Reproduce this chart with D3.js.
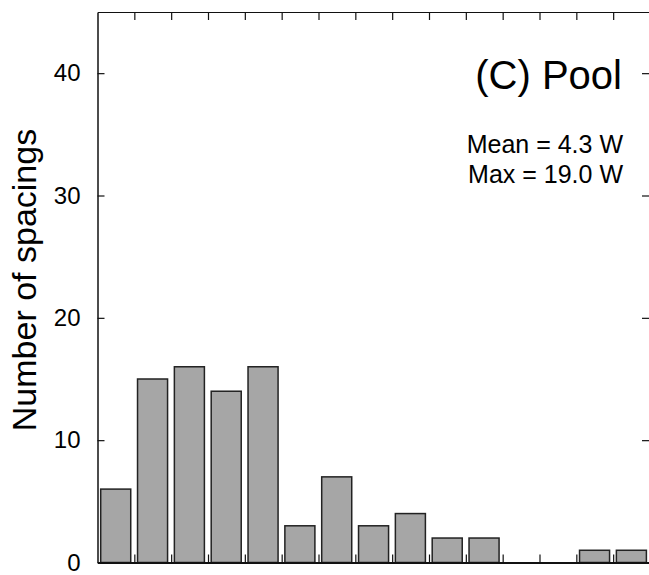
<!DOCTYPE html>
<html>
<head>
<meta charset="utf-8">
<script src="https://cdn.jsdelivr.net/npm/d3@7"></script>
<style>
  html, body { margin: 0; padding: 0; background: #fff; }
  svg { display: block; font-family: Arial, "Liberation Sans", Helvetica, sans-serif; }
</style>
</head>
<body>
<svg id="chart" width="649" height="575"></svg>
<script>
const bins = [1, 2, 3, 4, 5, 6, 7, 8, 9, 10, 11, 12, 13, 14, 15];
const counts = [6, 15, 16, 14, 16, 3, 7, 3, 4, 2, 2, 0, 0, 1, 1];
const yTicks = [0, 10, 20, 30, 40];
const title = "(C) Pool";
const statLines = ["Mean = 4.3 W", "Max = 19.0 W"];
const yLabel = "Number of spacings";

const svg = d3.select("#chart");
const pLeft = 97.5, pRight = 650, pTop = 12, pBottom = 562.5;

const x = d3.scaleLinear().domain([0, bins.length]).range([pLeft, pRight]);
const y = d3.scaleLinear().domain([0, 45]).range([pBottom, pTop]);

// bars
svg.append("g").selectAll("rect")
  .data(counts.map((c, i) => ({ bin: bins[i], c, i })).filter(d => d.c > 0))
  .join("rect")
  .attr("x", d => x(d.i) + 3.2)
  .attr("width", d => x(d.i + 1) - x(d.i) - 6.8)
  .attr("y", d => y(d.c))
  .attr("height", d => y(0) - y(d.c))
  .attr("fill", "#a6a6a6")
  .attr("stroke", "#222")
  .attr("stroke-width", 1.5);

// axes frame
const axisColor = "#111";
const inner = d3.range(1, bins.length);
// bottom axis (ticks inward)
const bAxis = d3.axisBottom(x).tickValues(inner).tickSizeInner(-8).tickSizeOuter(0).tickFormat("");
svg.append("g").attr("transform", `translate(0,${pBottom})`).call(bAxis)
  .call(g => g.select(".domain").attr("stroke", axisColor).attr("stroke-width", 2))
  .call(g => g.selectAll(".tick line").attr("stroke", axisColor).attr("stroke-width", 1.2));
// top axis
const tAxis = d3.axisTop(x).tickValues(inner).tickSizeInner(-8).tickSizeOuter(0).tickFormat("");
svg.append("g").attr("transform", `translate(0,${pTop})`).call(tAxis)
  .call(g => g.select(".domain").attr("stroke", axisColor).attr("stroke-width", 1.2))
  .call(g => g.selectAll(".tick line").attr("stroke", axisColor).attr("stroke-width", 1.2));
// left axis
const lAxis = d3.axisLeft(y).tickValues(yTicks).tickSizeInner(-7).tickSizeOuter(0).tickPadding(17);
svg.append("g").attr("transform", `translate(${pLeft},0)`).call(lAxis)
  .call(g => g.select(".domain").attr("stroke", axisColor).attr("stroke-width", 1.5))
  .call(g => g.selectAll(".tick line").attr("stroke", axisColor).attr("stroke-width", 1.2))
  .call(g => g.selectAll(".tick text")
    .attr("font-size", 24).attr("fill", "#000")
    .attr("font-family", "Arial, 'Liberation Sans', sans-serif"));
// right axis
const rAxis = d3.axisRight(y).tickValues(yTicks.filter(v => v > 0)).tickSizeInner(-8).tickSizeOuter(0).tickFormat("");
svg.append("g").attr("transform", `translate(${pRight},0)`).call(rAxis)
  .call(g => g.select(".domain").attr("stroke", axisColor).attr("stroke-width", 1.2))
  .call(g => g.selectAll(".tick line").attr("stroke", axisColor).attr("stroke-width", 1.2));

// y label
svg.append("text")
  .attr("transform", "translate(36,280) rotate(-90)")
  .attr("text-anchor", "middle")
  .attr("font-size", 34)
  .attr("fill", "#000")
  .text(yLabel);

// title
svg.append("text")
  .attr("x", 622).attr("y", 89)
  .attr("text-anchor", "end")
  .attr("font-size", 40)
  .attr("fill", "#000")
  .text(title);

svg.append("g").selectAll("text")
  .data(statLines)
  .join("text")
  .attr("x", 623)
  .attr("y", (d, i) => 153 + i * 30)
  .attr("text-anchor", "end")
  .attr("font-size", 25)
  .attr("fill", "#000")
  .text(d => d);
</script>
</body>
</html>
